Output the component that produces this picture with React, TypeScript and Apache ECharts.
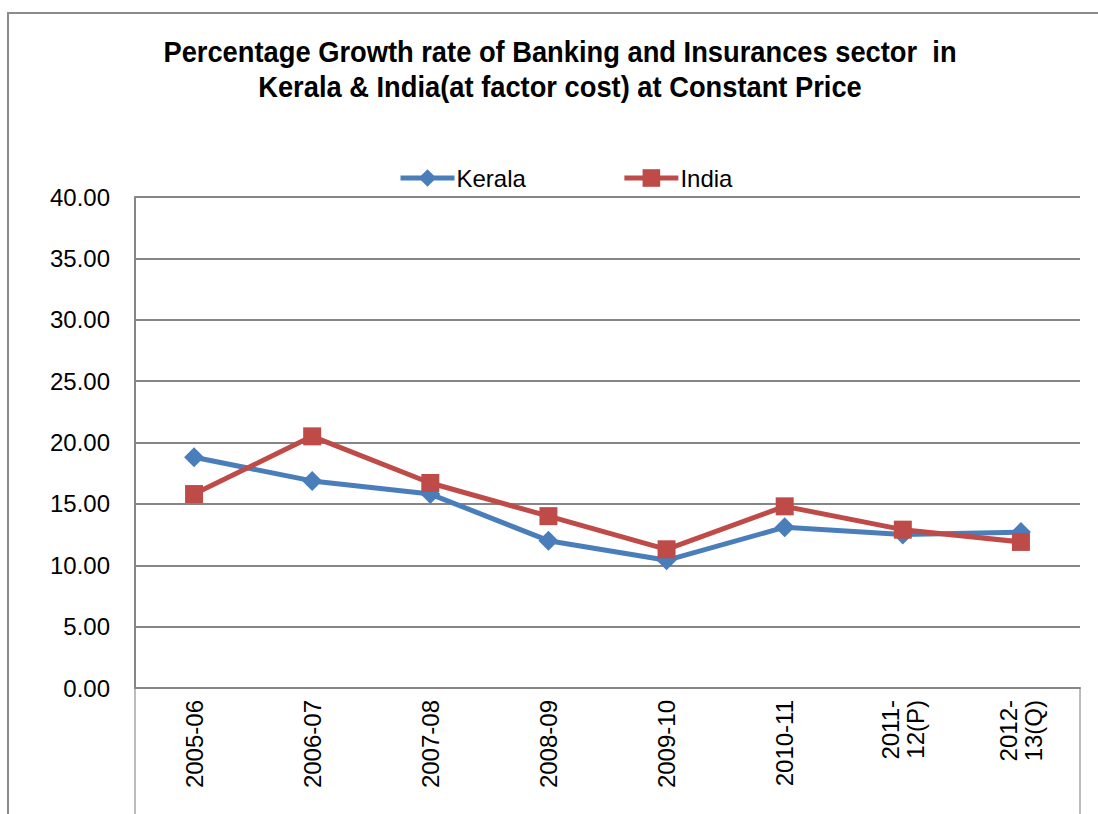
import React, { useEffect, useRef } from "react";
import * as echarts from "echarts";

const categories = ["2005-06", "2006-07", "2007-08", "2008-09", "2009-10", "2010-11", "2011-\n12(P)", "2012-\n13(Q)"];
const kerala = [18.8, 16.87, 15.8, 12.0, 10.4, 13.1, 12.5, 12.7];
const india = [15.8, 20.5, 16.7, 14.0, 11.3, 14.8, 12.9, 11.9];
const titleText = "Percentage Growth rate of Banking and Insurances sector  in\nKerala & India(at factor cost) at Constant Price";

const SANS = "'Liberation Sans', Arial, sans-serif";

export default function App() {
  const ref = useRef<HTMLDivElement>(null);
  useEffect(() => {
    const chart = echarts.init(ref.current!, null, { renderer: "svg" });
    chart.setOption({
      animation: false,
      backgroundColor: "#ffffff",
      legend: {
        top: 161,
        left: 393,
        itemGap: 96,
        itemWidth: 54,
        itemHeight: 22,
        lineStyle: { width: 5 },
        textStyle: { fontFamily: SANS, fontSize: 24, color: "#000", padding: [0, 0, 0, -3] },
        data: ["Kerala", "India"],
      },
      grid: { left: 135, right: 18, top: 197, bottom: 126, containLabel: false },
      xAxis: {
        type: "category",
        data: categories,
        boundaryGap: true,
        axisLine: { lineStyle: { color: "#868686", width: 2 } },
        axisTick: { show: false },
        axisLabel: {
          rotate: 90,
          margin: 12,
          fontFamily: SANS,
          fontSize: 24,
          lineHeight: 25,
          color: "#000",
          interval: 0,
        },
      },
      yAxis: {
        type: "value",
        min: 0,
        max: 40,
        interval: 5,
        axisLine: { show: true, lineStyle: { color: "#868686", width: 2 } },
        axisTick: { show: false },
        splitLine: { lineStyle: { color: "#868686", width: 2 } },
        axisLabel: {
          formatter: (v: number) => v.toFixed(2),
          fontFamily: SANS,
          fontSize: 24,
          color: "#000",
          margin: 25,
        },
      },
      graphic: [
        { type: "rect", shape: { x: 8, y: 13, width: 1200, height: 900 }, style: { fill: "none", stroke: "#8c8c8c", lineWidth: 2 }, silent: true },
        { type: "line", shape: { x1: 135, y1: 688, x2: 135, y2: 814 }, style: { stroke: "#a6a6a6", lineWidth: 1.5 }, silent: true },
        { type: "line", shape: { x1: 1080, y1: 688, x2: 1080, y2: 814 }, style: { stroke: "#a6a6a6", lineWidth: 1.5 }, silent: true },
        {
          type: "text",
          x: 560,
          y: 34,
          scaleX: 0.91,
          silent: true,
          style: {
            text: titleText,
            font: `bold 30px ${SANS}`,
            fill: "#000",
            textAlign: "center",
            textVerticalAlign: "top",
            lineHeight: 35,
          },
        },
      ],
      series: [
        {
          name: "Kerala",
          type: "line",
          data: kerala,
          symbol: "diamond",
          symbolSize: 20,
          lineStyle: { color: "#4A7EBB", width: 5 },
          itemStyle: { color: "#4A7EBB" },
        },
        {
          name: "India",
          type: "line",
          data: india,
          symbol: "rect",
          symbolSize: 18,
          lineStyle: { color: "#BE4B48", width: 5 },
          itemStyle: { color: "#BE4B48" },
        },
      ],
    });
    return () => chart.dispose();
  }, []);
  return <div ref={ref} style={{ position: "fixed", left: 0, top: 0, width: 1098, height: 814 }} />;
}
